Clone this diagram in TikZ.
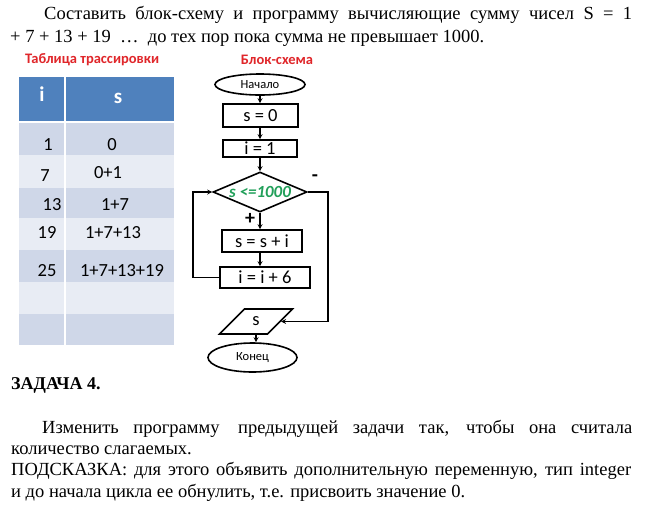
\documentclass[tikz,border=0pt]{standalone}
\usepackage{fontspec}
\setmainfont{Liberation Serif}
\newfontfamily\calib{Carlito}
\usetikzlibrary{shapes.geometric,arrows.meta}
\definecolor{hdr}{HTML}{4F81BD}
\definecolor{rowA}{HTML}{CFD7E8}
\definecolor{rowB}{HTML}{E8ECF4}
\definecolor{titred}{HTML}{E0262A}
\definecolor{condgreen}{HTML}{22A05A}
\begin{document}
\begin{tikzpicture}[x=1pt,y=-1pt,
  fc/.style={draw, line width=1.6pt, inner sep=0pt, font=\calib\fontsize{18.5}{20}\selectfont},
  box/.style={fc, rectangle},
  term/.style={fc, ellipse, font=\calib\fontsize{12.5}{14}\selectfont},
  arr/.style={line width=1.5pt, -{Stealth[length=5pt,width=5pt]}},
  para/.style={inner sep=0pt, anchor=base west, font=\fontsize{18.5}{21}\selectfont},
  ttl/.style={inner sep=0pt, text=titred, font=\calib\bfseries\fontsize{14.5}{16}\selectfont},
  tcell/.style={inner sep=0pt, anchor=base, font=\calib\fontsize{18.5}{20}\selectfont},
  thead/.style={tcell, text=white, font=\calib\bfseries\fontsize{21}{22}\selectfont},
  sign/.style={inner sep=0pt, font=\calib\bfseries\fontsize{20}{22}\selectfont}
]
\useasboundingbox[fill=white] (0,0) rectangle (668,509);

% top text
\node[para] (l1) at (44,19) {\makebox[588pt][s]{Составить блок-схему и программу вычисляющие сумму чисел S = 1}};
\node[para] (l2) at (10,42) {+ 7 + 13 + 19 \ … \ до тех пор пока сумма не превышает 1000.};

% table
\node[ttl, anchor=west] (ttab) at (25,60) {Таблица трассировки};
\fill[hdr] (19,77) rectangle (174,122);
\fill[rowA] (19,122) rectangle (174,155);
\fill[rowB] (19,155) rectangle (174,188);
\fill[rowA] (19,188) rectangle (174,218);
\fill[rowB] (19,218) rectangle (174,250);
\fill[rowA] (19,250) rectangle (174,282);
\fill[rowB] (19,282) rectangle (174,314);
\fill[rowA] (19,314) rectangle (174,345);
\draw[white, line width=1.5pt] (65,77) -- (65,345);
\draw[white, line width=2.5pt] (19,122) -- (174,122);
\node[thead] (hi) at (42,101) {i};
\node[thead] (hs) at (118,103) {s};
\node[tcell] (a1) at (48,150) {1};
\node[tcell] (b1) at (112,150) {0};
\node[tcell] (a2) at (45,181) {7};
\node[tcell] (b2) at (108,178) {0+1};
\node[tcell] (a3) at (52,210) {13};
\node[tcell] (b3) at (115,210) {1+7};
\node[tcell] (a4) at (47,238) {19};
\node[tcell] (b4) at (113,238) {1+7+13};
\node[tcell] (a5) at (47,276) {25};
\node[tcell] (b5) at (122,276) {1+7+13+19};

% flowchart
\node[ttl] (tfc) at (277,60) {Блок-схема};
\node[term, minimum width=90pt, minimum height=21pt] (start) at (260,84.5) {Начало};
\node[box, minimum width=75pt, minimum height=23pt] (s0) at (260.5,115.5) {s = 0};
\node[box, minimum width=74pt, minimum height=17pt] (i1) at (260,148.5) {i = 1};
\node[fc, diamond, aspect=2.35, minimum width=94pt, minimum height=40pt,
      font=\calib\bfseries\itshape\fontsize{17}{19}\selectfont, text=condgreen] (cond) at (260,192) {s <=1000};
\node[box, minimum width=80pt, minimum height=22pt] (ss) at (262,241) {s = s + i};
\node[box, minimum width=90pt, minimum height=21pt] (ii) at (265,277.5) {i = i + 6};
\node[fc, trapezium, trapezium left angle=49, trapezium right angle=131,
      trapezium stretches=true, minimum width=73pt, minimum height=25pt] (out) at (256,321.5) {s};
\node[term, minimum width=89pt, minimum height=29pt] (end) at (252.5,357.5) {Конец};
\node[sign] (plus) at (250,219) {+};
\node[sign] (minus) at (315,178) {-};

\coordinate (lx) at (193,0);
\coordinate (rx) at (328,0);
\draw[arr] (start) -- (start |- s0.north);
\draw[arr] (s0.south -| start) -- (start |- i1.north);
\draw[arr] (i1.south -| start) -- (cond);
\draw[arr] (cond.south) -- (cond.south |- ss.north);
\draw[arr] (ss.south -| cond.south) -- (ii.north -| cond.south);
\draw[arr] (ii.west) -- (ii.west -| lx) -- (cond.west -| lx) -- (cond.west);
\draw[arr] (cond.east) -- (cond.east -| rx) -- (out.east -| rx) -- (out.east);
\draw[arr] (out.south) -- (out.south |- end.north);

% bottom text
\node[para, font=\bfseries\fontsize{18}{20}\selectfont] (task) at (11,389) {ЗАДАЧА 4.};
\node[para] (p1) at (42,433) {\makebox[590pt][s]{Изменить программу\hspace{4pt} предыдущей задачи так, чтобы она считала}};
\node[para] (p2) at (11,454) {количество слагаемых.};
\node[para] (p3) at (11,475) {\makebox[620pt][s]{ПОДСКАЗКА: для этого объявить дополнительную переменную, тип integer}};
\node[para] (p4) at (11,497) {и до начала цикла ее обнулить, т.е. присвоить значение 0.};
\end{tikzpicture}
\end{document}
